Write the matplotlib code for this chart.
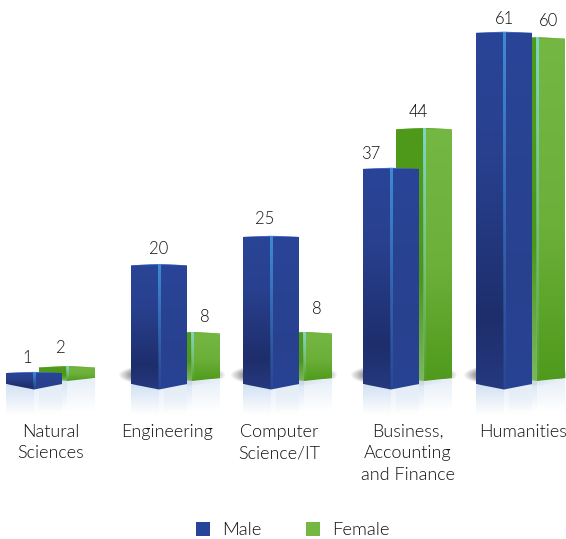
import numpy as np
import matplotlib
matplotlib.use("Agg")
import matplotlib.pyplot as plt
from matplotlib.colors import LinearSegmentedColormap, to_rgb
from matplotlib.patches import Polygon, Patch

categories = ["Natural\nSciences", "Engineering", "Computer\nScience/IT",
              "Business,\nAccounting\nand Finance", "Humanities"]
male = [1, 20, 25, 37, 61]
female = [2, 8, 8, 44, 60]
series_names = ["Male", "Female"]

# layout (figure is addressed in pixels on x, in value units on y)
W, H = 566, 539
PX_PER_UNIT = 5.67
ZERO_PX = 378.7
centers = [34, 159, 271, 391, 504]
female_shift = 33
half_w = 28
male_label_xy = [(27, 15), (159, 16), (265, 18), (371, 15), (504, 14)]
female_label_xy = [(61, 19), (205, 16), (317, 24), (418, 17), (548, 17)]
shadow_strength = [0, .6, .6, .6, .6]
label_x = [51, 167, 279, 408, 523]
label_y = 424

FONT = "Lato"
WEIGHT = 300
TXT = "#111111"

fig = plt.figure(figsize=(W / 100, H / 100), dpi=100, facecolor="white")
ax = fig.add_axes([0, 0, 1, 1])
ax.set_xlim(0, W)
ax.set_ylim(-(H - ZERO_PX) / PX_PER_UNIT, ZERO_PX / PX_PER_UNIT)
ax.axis("off")
ax.set_autoscale_on(False)


def py(px):
    """pixel row -> value units"""
    return (ZERO_PX - px) / PX_PER_UNIT


def dpx(d):
    return d / PX_PER_UNIT


def vgrad(x0, x1, y_top, y_bot, stops, clip=None, z=2):
    cmap = LinearSegmentedColormap.from_list("g", stops)
    g = np.linspace(0, 1, 256).reshape(-1, 1)
    im = ax.imshow(g, cmap=cmap, extent=(x0, x1, y_bot, y_top), aspect="auto",
                   origin="upper", zorder=z, interpolation="bilinear", vmin=0, vmax=1)
    if clip is not None:
        p = Polygon(clip, closed=True, transform=ax.transData, fc="none", ec="none")
        im.set_clip_path(p)
    return im


def ridge(xc, y_top, y_bot, color, z):
    rgb = to_rgb(color)
    a = np.interp(np.linspace(0, 1, 128), [0, .55, 1], [.95, .45, .08])
    arr = np.zeros((128, 1, 4))
    arr[..., :3] = rgb
    arr[..., 3] = a[:, None]
    ax.imshow(arr, extent=(xc - 1.3, xc + 1.3, y_bot, y_top), aspect="auto", zorder=z,
              interpolation="bilinear")


def shadow(x0, x1, yc_px, strength):
    if strength <= 0:
        return
    xs = np.linspace(-1, 1, 240)
    ys = np.linspace(-1, 1, 60)
    X, Y = np.meshgrid(xs, ys)
    R = np.sqrt(X ** 2 + Y ** 2)
    a = np.clip((1 - R) / .3, 0, 1) * strength
    arr = np.zeros((60, 240, 4))
    arr[..., :3] = .15
    arr[..., 3] = a
    ax.imshow(arr, extent=(x0, x1, py(yc_px + 12), py(yc_px - 12)), aspect="auto", zorder=1,
              interpolation="bilinear")


def reflection(x0, x1, top_px, depth):
    xc = (x0 + x1) / 2
    for a, b, col in [(x0, xc, "#d3e2f3"), (xc, x1, "#e6eff8")]:
        arr = np.zeros((64, 1, 4))
        arr[..., :3] = to_rgb(col)
        arr[..., 3] = np.linspace(1, 0, 64)[:, None]
        ax.imshow(arr, extent=(a, b, py(top_px + depth), py(top_px)), aspect="auto", zorder=1.5,
                  interpolation="bilinear")


def bar3d(xc, value, z, left_stops, right_stops, ridge_col, side_px, mid_px, top_col):
    x0, x1 = xc - half_w, xc + half_w
    top = value
    s, m = py(side_px), py(mid_px)
    lift = dpx(1.2)
    left = [(x0, top), (xc, top + lift), (xc, m), (x0, s)]
    right = [(xc, top + lift), (x1, top), (x1, s), (xc, m)]
    vgrad(x0, xc, top + lift, m, left_stops, left, z)
    vgrad(xc, x1, top + lift, m, right_stops, right, z)
    ax.add_patch(Polygon([(x0, top), (xc, top + lift), (x1, top), (xc, top + lift * .2)],
                         closed=True, fc=top_col, ec="none", zorder=z + .1))
    ridge(xc, top + lift, m + dpx(2), ridge_col, z + .2)


male_left = [(0, "#2a4597"), (.35, "#28408e"), (.8, "#1e2e6c"), (1, "#26397f")]
male_right = [(0, "#2a4597"), (.7, "#28418f"), (1, "#284394")]
fem_left = [(0, "#4f9a1b"), (.6, "#4e9619"), (1, "#7cb760")]
fem_right = [(0, "#74b743"), (.55, "#6cb03a"), (1, "#4f9a1c")]

for i, xc in enumerate(centers):
    fx = xc + female_shift
    shadow(xc - half_w - 13, fx + half_w + 6, 375, shadow_strength[i])
    reflection(fx - half_w, fx + half_w, 379, 32)
    reflection(xc - half_w, xc + half_w, 385, 30)
    bar3d(fx, female[i], 3, fem_left, fem_right, "#7fd8c8", 378, 381, "#5fa52c")
    bar3d(xc, male[i], 4, male_left, male_right, "#3f8fd6", 384, 389.5, "#3f78cf")

    lx, off = male_label_xy[i]
    ax.text(lx, male[i] + dpx(off), str(male[i]), ha="center", va="center",
            family=FONT, weight=WEIGHT, fontsize=12, color=TXT, zorder=6)
    lx, off = female_label_xy[i]
    ax.text(lx, female[i] + dpx(off), str(female[i]), ha="center", va="center",
            family=FONT, weight=WEIGHT, fontsize=12, color=TXT, zorder=6)
    ax.text(label_x[i], py(label_y), categories[i], ha="center", va="top",
            family=FONT, weight=WEIGHT, fontsize=13, color=TXT, linespacing=1.42, zorder=6)

handles = [Patch(fc="#27439a", ec="none"), Patch(fc="#74b843", ec="none")]
ax.legend(handles, series_names, loc="center", bbox_to_anchor=(293 / W, 1 - 530 / H),
          ncol=2, frameon=False, prop={"family": FONT, "weight": WEIGHT, "size": 13.3},
          labelcolor=TXT, handlelength=.76, handleheight=.76, handletextpad=.67,
          columnspacing=2.4, borderpad=0)

fig.savefig("out.png", dpi=100, facecolor="white")
